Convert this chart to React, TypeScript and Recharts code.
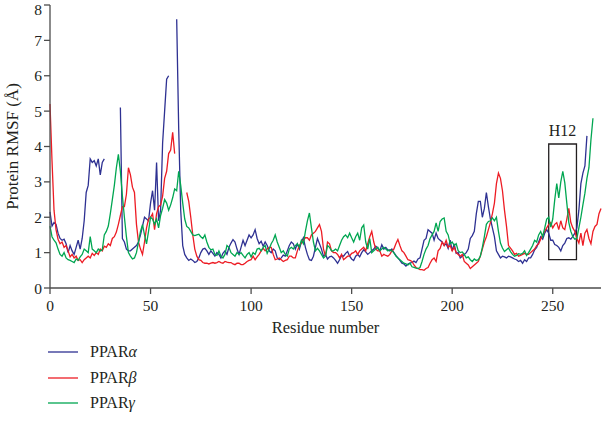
import {
  LineChart, Line, XAxis, YAxis, Legend, ReferenceArea,
} from 'recharts';

// residue index 0..274, one value per residue, null = not resolved
const residues = Array.from({ length: 275 }, (_, i) => i);

const ppara = [
  2.15, 1.75, 1.85, 1.8, 1.55, 1.4, 1.35, 1.38, 1.25, 1.0,
  1.2, 1.05, 0.95, 1.15, 1.35, 1.1, 1.4, 1.9, 2.7, 2.9,
  3.65, 3.55, 3.6, 3.45, 3.65, 3.2, 3.55, 3.65, null, null,
  null, null, null, null, null, 5.1, 1.4, 1.3, 1.1, 1.05,
  1.05, 1.1, 1.15, 1.2, 1.3, 1.5, 1.75, 2.0, 1.95, 1.9,
  2.4, 2.75, 2.2, 3.55, 1.9, 2.2, 4.1, 5.0, 5.9, 6.0,
  null, null, null, 7.6, 4.5, 2.2, 1.2, 0.95, 0.85, 0.78,
  0.82, 0.78, 0.72, 0.75, 0.85, 1.0, 1.1, 1.12, 1.05, 0.95,
  1.05, 0.98, 0.9, 1.0, 0.95, 0.85, 0.98, 1.05, 0.95, 1.15,
  1.27, 1.37, 1.3, 1.1, 0.95, 1.15, 1.35, 1.2, 1.35, 1.5,
  1.42, 1.5, 1.65, 1.4, 1.25, 1.32, 1.18, 1.3, 1.2, 1.05,
  1.0, 1.1, 1.05, 0.85, 0.8, 0.85, 0.93, 0.9, 1.05, 1.2,
  1.3, 1.25, 1.1, 1.25, 1.1, 1.3, 1.42, 1.15, 0.95, 0.8,
  0.78, 0.9, 1.15, 1.4, 1.25, 1.1, 0.9, 0.95, 0.82, 0.88,
  0.9, 0.85, 0.78, 0.7, 0.8, 0.92, 0.9, 0.98, 1.03, 0.9,
  0.82, 0.78, 0.9, 0.95, 0.88, 1.0, 1.08, 1.02, 0.95, 1.0,
  1.05, 1.1, 1.18, 1.13, 1.05, 1.22, 1.1, 1.15, 1.08, 1.05,
  1.1, 1.0, 0.92, 0.85, 0.78, 0.7, 0.68, 0.62, 0.68, 0.7,
  0.72, 0.76, 0.72, 0.82, 0.85, 1.1, 1.35, 1.4, 1.65, 1.6,
  1.55, 1.35, 1.55, 1.4, 1.35, 1.3, 1.2, 1.25, 1.12, 1.35,
  1.05, 1.25, 0.98, 1.0, 0.85, 0.9, 0.95, 1.0, 1.1, 1.4,
  1.48, 1.6, 2.1, 2.45, 2.45, 2.0, 2.25, 2.7, 2.3, 1.95,
  1.7, 1.45, 1.05, 0.95, 0.85, 0.9, 0.88, 0.85, 0.9, 0.88,
  0.85, 0.82, 0.8, 0.75, 0.78, 0.7, 0.8, 0.75, 0.85, 0.85,
  0.95, 1.08, 1.15, 1.3, 1.45, 1.38, 1.55, 1.65, 1.55, 1.35,
  1.35, 1.23, 1.2, 1.15, 1.05, 1.2, 1.27, 1.4, 1.42, 1.38,
  1.46, 1.55, 1.7, 2.2, 2.95, 3.25, 3.45, 4.3, null, null,
  null, null, null, null, null,
];

const pparb = [
  5.2, 3.6, 2.2, 1.65, 1.38, 1.25, 1.3, 1.15, 1.2, 1.05,
  0.88, 0.95, 0.85, 0.9, 0.78, 0.8, 0.72, 0.8, 0.85, 0.9,
  0.85, 0.98, 0.92, 1.0, 0.95, 1.1, 1.05, 1.18, 1.15, 1.25,
  1.2, 1.4, 1.45, 1.58, 1.8, 2.05, 2.3, 2.3, 2.65, 3.4,
  3.2, 2.85, 2.7, 1.8, 1.3, 1.1, 0.95, 1.3, 1.7, 1.95,
  2.0, 2.1, 1.65, 2.1, 2.3, 2.35, 2.6, 3.1, 3.3, 3.8,
  3.9, 4.4, 3.8, null, null, null, null, null, 2.7, 2.45,
  2.0, 1.5, 1.1, 0.9, 0.8, 0.78, 0.72, 0.7, 0.7, 0.68,
  0.7, 0.72, 0.7, 0.72, 0.75, 0.72, 0.7, 0.75, 0.73, 0.72,
  0.72, 0.68, 0.66, 0.7, 0.7, 0.66, 0.66, 0.7, 0.75, 0.78,
  0.8, 0.9, 0.8, 0.88, 0.95, 1.05, 1.12, 1.05, 1.1, 1.15,
  1.15, 0.95, 0.8, 0.82, 0.85, 0.8, 0.75, 0.78, 0.8, 0.9,
  0.9, 0.85, 0.85, 1.05, 1.2, 1.27, 1.35, 1.42, 1.42, 1.35,
  1.5, 1.55, 1.6, 1.7, 1.79, 1.6, 1.1, 0.9, 1.3, 1.25,
  1.05, 1.0, 1.0, 0.95, 0.85, 0.95, 0.8, 0.85, 0.9, 0.9,
  0.98, 1.0, 1.05, 0.95, 1.05, 1.1, 1.15, 1.05, 1.25, 1.45,
  1.6, 1.3, 1.1, 1.05, 1.05, 0.9, 0.95, 0.92, 0.9, 0.95,
  1.05, 1.1, 1.25, 1.37, 1.2, 1.05, 1.0, 0.9, 0.8, 0.78,
  0.75, 0.65, 0.58, 0.55, 0.52, 0.52, 0.5, 0.55, 0.58, 0.7,
  0.8, 0.85, 0.75, 1.05, 1.12, 1.3, 1.2, 1.35, 1.15, 1.2,
  1.05, 1.15, 1.0, 0.95, 0.9, 0.95, 0.75, 0.7, 0.65, 0.55,
  0.6, 0.65, 0.7, 0.75, 0.9, 1.1, 1.3, 1.45, 1.65, 1.85,
  2.1, 2.4, 2.95, 3.25, 3.1, 2.75, 2.2, 1.75, 1.2, 1.13,
  1.05, 0.95, 0.98, 0.9, 0.92, 0.95, 0.98, 0.95, 0.95, 1.0,
  1.05, 1.1, 1.2, 1.25, 1.38, 1.5, 1.6, 1.7, 1.8, 1.85,
  1.7, 1.8, 1.85, 1.65, 1.9, 1.7, 1.65, 1.95, 2.25, 1.85,
  1.7, 1.6, 1.4, 1.27, 1.55, 1.2, 1.55, 1.65, 1.4, 1.25,
  1.6, 1.74, 1.8, 2.1, 2.25,
];

const pparg = [
  1.75, 1.45, 1.35, 1.28, 1.1, 0.95, 0.9, 1.0, 0.85, 0.8,
  0.78, 0.75, 0.72, 0.82, 0.78, 0.88, 0.95, 1.1, 1.05, 1.0,
  1.45, 1.1, 1.05, 1.0, 1.1, 1.05, 1.08, 1.5, 1.6, 1.75,
  2.1, 2.5, 2.9, 3.4, 3.78, 3.3, 2.6, 2.0, 1.45, 1.0,
  0.9, 0.82, 0.85, 1.0, 1.3, 1.6, 1.79, 1.5, 1.25, 1.6,
  2.0, 1.95, 1.8, 1.95, 1.7, 2.05, 2.25, 2.5, 2.4, 2.2,
  2.35, 2.55, 2.8, 2.75, 3.3, 2.9, 2.4, 1.95, 1.74, 1.7,
  1.6, 1.5, 1.48, 1.5, 1.52, 1.45, 1.4, 1.5, 1.3, 1.15,
  1.08, 1.1, 0.95, 0.92, 1.05, 0.9, 0.85, 0.95, 1.2, 1.15,
  1.0, 0.95, 0.9, 1.0, 0.95, 1.0, 0.92, 0.85, 0.95, 1.0,
  0.88, 1.0, 0.95, 1.1, 1.12, 1.05, 1.15, 1.2, 0.98, 1.1,
  1.25, 1.35, 1.5, 1.3, 1.15, 1.0, 1.05, 0.95, 0.9, 1.1,
  1.15, 1.1, 1.2, 1.25, 1.15, 1.35, 1.25, 1.6, 1.9, 2.12,
  1.7, 1.3, 1.05, 1.12, 1.05, 0.95, 0.85, 0.9, 1.2, 1.15,
  1.05, 1.05, 1.1, 1.05, 1.2, 1.35, 1.45, 1.5, 1.42, 1.55,
  1.42, 1.3, 1.45, 1.55, 1.35, 1.7, 1.78, 1.3, 1.1, 1.4,
  1.0, 1.05, 1.1, 1.15, 1.05, 1.1, 1.15, 1.1, 1.05, 1.08,
  1.05, 1.0, 0.9, 0.85, 0.8, 0.75, 0.7, 0.68, 0.65, 0.7,
  0.6, 0.58, 0.56, 0.55, 0.58, 0.75, 0.95, 1.1, 1.2, 1.4,
  1.5, 1.6, 1.84, 1.6, 1.88, 1.95, 1.98, 1.6, 1.5, 1.25,
  1.3, 1.2, 1.25, 1.05, 1.0, 1.02, 0.95, 0.85, 0.88, 0.8,
  0.75, 0.82, 0.78, 0.8, 0.9, 1.15, 1.45, 1.8, 1.88, 1.9,
  1.98, 1.9, 2.0, 1.6, 1.27, 1.13, 1.03, 1.08, 1.13, 1.03,
  0.95, 0.9, 0.92, 0.97, 0.95, 0.98, 1.05, 0.92, 1.0, 1.1,
  1.2, 1.35, 1.3, 1.5, 1.6, 1.45, 1.69, 1.95, 2.0, 1.72,
  1.95, 2.5, 2.95, 2.55, 3.0, 3.3, 2.97, 2.4, 1.85, 1.6,
  1.45, 1.38, 1.4, 1.7, 2.0, 2.35, 2.68, 3.1, 3.4, 4.19,
  4.8, null, null, null, null,
];

const xTicks = [0, 50, 100, 150, 200, 250];
const yTicks = [0, 1, 2, 3, 4, 5, 6, 7, 8];

const SERIES = [
  { key: 'alpha', greek: 'α', color: '#2e3192' },
  { key: 'beta', greek: 'β', color: '#ed1c24' },
  { key: 'gamma', greek: 'γ', color: '#00a651' },
];

const data = residues.map((r, i) => ({
  residue: r, alpha: ppara[i], beta: pparb[i], gamma: pparg[i],
}));

const FONT = '"Liberation Serif", "DejaVu Serif", serif';
const INK = '#231f20';
const AXIS = '#4d4d4d';

const YLabel = ({ viewBox }: any) => {
  const cx = viewBox.x + 12;
  const cy = viewBox.y + viewBox.height / 2;
  return (
    <text
      x={cx} y={cy} dy="0.35em" textAnchor="middle"
      transform={`rotate(-90, ${cx}, ${cy})`}
      fontFamily={FONT} fontSize={17} fill={INK}
    >
      Protein RMSF (Å)
    </text>
  );
};

const renderLegend = () => (
  <div style={{ fontFamily: FONT, fontSize: 16, color: INK }}>
    {SERIES.map((s) => (
      <div key={s.key} style={{ display: 'flex', alignItems: 'center', height: 25.5 }}>
        <svg width={30} height={4}>
          <line x1={0} x2={30} y1={2} y2={2} stroke={s.color} strokeWidth={1.3} />
        </svg>
        <span style={{ marginLeft: 12 }}>PPAR<i>{s.greek}</i></span>
      </div>
    ))}
  </div>
);

export default function App() {
  return (
    <div style={{ position: 'absolute', left: 0, top: 0, width: 603, height: 425, background: '#fff' }}>
      <LineChart width={603} height={425} data={data} margin={{ top: 5, right: 2, left: 0, bottom: 87 }}>
        <XAxis
          type="number" dataKey="residue" domain={[0, 274]} ticks={xTicks}
          tickSize={6} tickMargin={6} height={50}
          axisLine={{ stroke: AXIS, strokeWidth: 1.3 }} tickLine={{ stroke: AXIS, strokeWidth: 1.3 }}
          tick={{ fontFamily: FONT, fontSize: 15.5, fill: INK }}
          label={{ value: 'Residue number', position: 'insideBottom', offset: 5, fontFamily: FONT, fontSize: 16.5, fill: INK }}
        />
        <YAxis
          type="number" domain={[0, 8]} ticks={yTicks} width={50}
          tickSize={6} tickMargin={2}
          axisLine={{ stroke: AXIS, strokeWidth: 1.3 }} tickLine={{ stroke: AXIS, strokeWidth: 1.3 }}
          tick={{ fontFamily: FONT, fontSize: 15.5, fill: INK }}
          label={<YLabel />}
        />
        <Legend
          layout="horizontal" verticalAlign="middle" align="center"
          content={renderLegend}
          wrapperStyle={{ left: 48, top: 339.5, width: 200, height: 80 }}
        />
        {SERIES.map((s) => (
          <Line
            key={s.key} type="linear" dataKey={s.key} stroke={s.color} strokeWidth={1.3}
            dot={false} activeDot={false} connectNulls={false} isAnimationActive={false}
          />
        ))}
        <ReferenceArea
          x1={248} x2={261.8} y1={0.8} y2={4.07}
          fill="none" stroke={INK} strokeWidth={1.3} ifOverflow="visible"
          label={{ value: 'H12', position: 'top', offset: 8, fontFamily: FONT, fontSize: 16, fill: INK }}
        />
      </LineChart>
    </div>
  );
}
